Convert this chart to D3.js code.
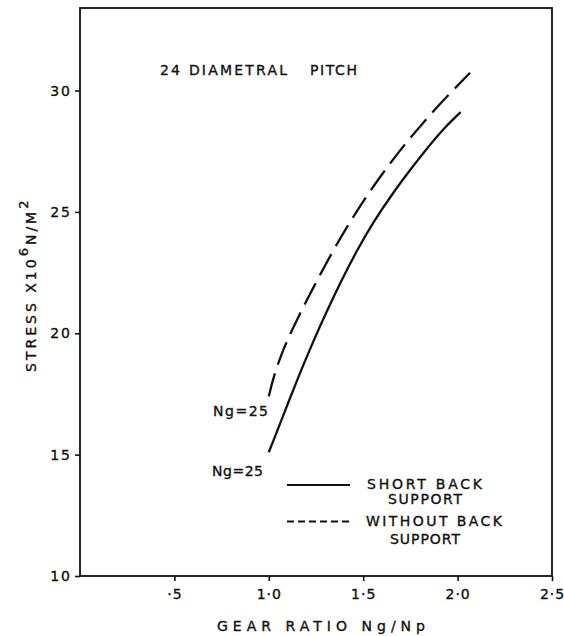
<!DOCTYPE html>
<html>
<head>
<meta charset="utf-8">
<script src="https://cdn.jsdelivr.net/npm/d3@7"></script>
<style>
  html, body { margin: 0; padding: 0; background: #fff; }
  svg { display: block; }
  text { font-family: "DejaVu Sans", "Liberation Sans", sans-serif; fill: #111; stroke: #111; stroke-width: 0.35; }
</style>
</head>
<body>
<svg id="chart" width="564" height="636"></svg>
<script>
// ---- data ----
const shortBackX = [1.0, 1.077, 1.156, 1.236, 1.307, 1.386, 1.466, 1.553, 1.659, 1.765, 1.907, 2.016];
const shortBackY = [15.1, 16.62, 18.2, 19.68, 20.9, 22.2, 23.4, 24.58, 25.8, 26.9, 28.3, 29.11];
const withoutBackX = [1.0, 1.024, 1.077, 1.121, 1.174, 1.227, 1.342, 1.466, 1.58, 1.695, 1.822, 1.942, 2.066];
const withoutBackY = [17.4, 18.2, 19.35, 20.1, 20.95, 21.75, 23.45, 25.05, 26.35, 27.55, 28.72, 29.75, 30.73];
const xTicks = [0.5, 1.0, 1.5, 2.0, 2.5];
const xTickLabels = ["·5", "1·0", "1·5", "2·0", "2·5"];
const yTicks = [10, 15, 20, 25, 30];
const yTickLabels = ["10", "15", "20", "25", "30"];
const seriesNames = ["SHORT  BACK", "WITHOUT  BACK"];

const svg = d3.select("#chart");
const x = d3.scaleLinear().domain([0, 2.5]).range([80, 552]);
const y = d3.scaleLinear().domain([10, 33.4]).range([576, 8]);

// frame
svg.append("rect")
  .attr("x", x(0)).attr("y", y(33.4))
  .attr("width", x(2.5) - x(0)).attr("height", y(10) - y(33.4))
  .attr("fill", "none").attr("stroke", "#111").attr("stroke-width", 1.8);

// axes
const xAxis = svg.append("g").attr("transform", `translate(0,${y(10)})`)
  .call(d3.axisBottom(x).tickValues(xTicks).tickSize(5).tickPadding(8)
    .tickFormat((d, i) => xTickLabels[i]));
const yAxis = svg.append("g").attr("transform", `translate(${x(0)},0)`)
  .call(d3.axisLeft(y).tickValues(yTicks).tickSize(5).tickPadding(3)
    .tickFormat((d, i) => yTickLabels[i]));
[xAxis, yAxis].forEach(g => {
  g.select(".domain").remove();
  g.selectAll(".tick line").attr("stroke", "#111").attr("stroke-width", 1.6);
  g.selectAll(".tick text").attr("font-size", 14).attr("fill", "#111")
    .style("font-family", '"DejaVu Sans", sans-serif');
});
yAxis.selectAll(".tick text").attr("letter-spacing", 2);
xAxis.selectAll(".tick text").attr("letter-spacing", 1);

// curves
const line = d3.line().x(d => x(d[0])).y(d => y(d[1])).curve(d3.curveBasis);
const shortData = shortBackX.map((v, i) => [v, shortBackY[i]]);
const withoutData = withoutBackX.map((v, i) => [v, withoutBackY[i]]);
svg.append("path").datum(shortData).attr("d", line)
  .attr("fill", "none").attr("stroke", "#111").attr("stroke-width", 2.3);
svg.append("path").datum(withoutData).attr("d", line)
  .attr("fill", "none").attr("stroke", "#111").attr("stroke-width", 2.3)
  .attr("stroke-dasharray", "24,9");

// labels
function label(txt, x0, yc, len, size) {
  return svg.append("text").attr("x", x0).attr("y", yc).attr("dy", "0.36em")
    .attr("font-size", size || 14).attr("textLength", len).attr("lengthAdjust", "spacing")
    .text(txt);
}
label("24 DIAMETRAL", 160, 70, 127);
label("PITCH", 310, 70, 47);
label("Ng=25", 213, 411, 55);
label("Ng=25", 212, 471, 51);

// legend
svg.append("line").attr("x1", 287).attr("x2", 350).attr("y1", 485).attr("y2", 485)
  .attr("stroke", "#111").attr("stroke-width", 1.8);
svg.append("line").attr("x1", 287).attr("x2", 352).attr("y1", 521.5).attr("y2", 521.5)
  .attr("stroke", "#111").attr("stroke-width", 1.8).attr("stroke-dasharray", "7,4");
label(seriesNames[0], 367, 484, 115);
label("SUPPORT", 388, 499, 74);
label(seriesNames[1], 366, 521, 136);
label("SUPPORT", 390, 539, 70);

// axis titles
label("GEAR  RATIO   Ng/Np", 217, 626, 208);
const yt = svg.append("text").attr("transform", "translate(36,372) rotate(-90)")
  .attr("font-size", 14).attr("letter-spacing", 3);
yt.append("tspan").text("STRESS  X10");
yt.append("tspan").attr("dy", -8).attr("font-size", 13).text("6");
yt.append("tspan").attr("dy", 8).text("N/M");
yt.append("tspan").attr("dy", -8).attr("font-size", 13).text("2");
</script>
</body>
</html>
